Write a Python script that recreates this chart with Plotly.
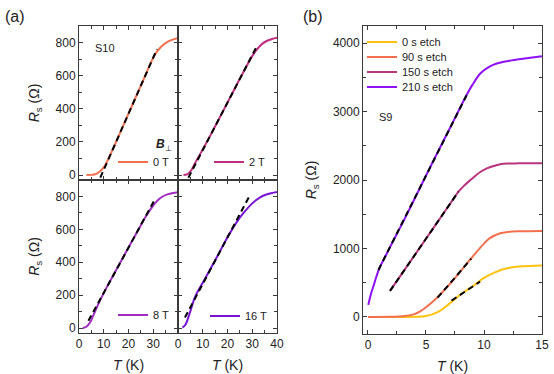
import plotly.graph_objects as go

# ---------------- data: panel (a), sample S10 ----------------
T_0T = [3, 5, 6.5, 7.5, 8.6, 10.5, 14, 18, 22, 26, 30, 31.5, 33, 35, 37, 40]
R_0T = [0, 1, 5, 12, 24, 58, 167, 303, 438, 574, 709, 745, 772, 797, 813, 828]
FIT_T_0T = [8.6, 31.5]
FIT_R_0T = [-16, 760]

T_2T = [2.2, 3.5, 4.2, 5.5, 7, 10, 14, 18, 22, 26, 30, 32, 34, 36, 38, 40]
R_2T = [0, 3, 9, 32, 75, 155, 265, 380, 495, 610, 718, 760, 792, 811, 822, 829]
FIT_T_2T = [4.2, 32]
FIT_R_2T = [-16, 782]

T_8T = [1.5, 3, 4.5, 6, 8, 12, 16, 20, 24, 27, 30, 33, 36, 40]
R_8T = [0, 8, 35, 85, 152, 270, 380, 490, 598, 678, 745, 792, 814, 826]
FIT_T_8T = [3.8, 30.3]
FIT_R_8T = [44, 772]

T_16T = [1.8, 3, 4.8, 6.9, 10, 14.3, 20.4, 24, 26.4, 30, 33, 36, 40]
R_16T = [3, 20, 94, 190, 275, 392, 562, 650, 698, 758, 793, 813, 827]
FIT_T_16T = [2.8, 29.1]
FIT_R_16T = [64, 809]

# ---------------- data: panel (b), sample S9 ----------------
T_0s = [0, 3, 4, 5, 6, 7, 8, 9, 10, 11, 12, 13, 14, 15]
R_0s = [0, 0, 2, 12, 70, 190, 330, 445, 570, 655, 710, 735, 745, 750]
FIT_T_0s = [7.2, 9.66]
FIT_R_0s = [238, 515]

T_90s = [0, 2, 3, 4, 4.5, 5, 5.9, 7, 7.6, 8.9, 10, 10.5, 11.4, 12, 13, 15]
R_90s = [0, 2, 8, 40, 80, 140, 273, 470, 589, 857, 1070, 1150, 1222, 1240, 1250, 1255]
FIT_T_90s = [6.0, 8.9]
FIT_R_90s = [280, 850]

T_150s = [1.9, 3, 4, 5, 6, 7, 7.8, 8.3, 8.9, 9.5, 10.2, 11, 11.4, 12, 13, 15]
R_150s = [380, 650, 896, 1142, 1388, 1634, 1830, 1920, 2010, 2095, 2165, 2212, 2230, 2240, 2243, 2245]
FIT_T_150s = [1.9, 7.8]
FIT_R_150s = [380, 1830]

T_210s = [0.03, 0.15, 0.3, 0.46, 0.7, 1.0, 1.5, 1.9, 3.3, 4.9, 5.9, 7.1, 8.4, 9.0, 9.7, 10.4, 11.1, 12.2, 13.5, 15]
R_210s = [175, 265, 360, 443, 575, 720, 885, 1020, 1480, 2030, 2370, 2770, 3210, 3390, 3560, 3650, 3703, 3742, 3775, 3810]
FIT_T_210s = [0.9, 8.5]
FIT_R_210s = [686, 3238]

LABELS_A = ["0 T", "2 T", "8 T", "16 T"]
LABELS_B = ["0 s etch", "90 s etch", "150 s etch", "210 s etch"]

C_ORANGE = "#F2704E"
C_MAGENTA = "#BE2F82"
C_PURPLE = "#A02CC0"
C_VIOLET = "#7A12D6"
C_YELLOW = "#FFC20E"
C_B150 = "#B8357F"
C_B210 = "#8E10F5"

W, H = 554, 374
FONT = "Liberation Sans, Arial, sans-serif"
AX = "#3a3a3a"

def px(x):
    return x / W

def py(y):
    return 1 - y / H

fig = go.Figure()

panels = [
    (T_0T, R_0T, FIT_T_0T, FIT_R_0T, C_ORANGE, LABELS_A[0], "x", "y", "legend2"),
    (T_2T, R_2T, FIT_T_2T, FIT_R_2T, C_MAGENTA, LABELS_A[1], "x2", "y2", "legend3"),
    (T_8T, R_8T, FIT_T_8T, FIT_R_8T, C_PURPLE, LABELS_A[2], "x3", "y3", "legend4"),
    (T_16T, R_16T, FIT_T_16T, FIT_R_16T, C_VIOLET, LABELS_A[3], "x4", "y4", "legend5"),
]
for T, R, FT, FR, col, lab, xa, ya, lg in panels:
    fig.add_trace(go.Scatter(x=T, y=R, mode="lines", line=dict(color=col, width=2, shape="spline"),
                             name=lab, xaxis=xa, yaxis=ya, legend=lg))
    fig.add_trace(go.Scatter(x=FT, y=FR, mode="lines", line=dict(color="black", width=2, dash="6px,4px"),
                             showlegend=False, xaxis=xa, yaxis=ya))

bset = [
    (T_0s, R_0s, FIT_T_0s, FIT_R_0s, C_YELLOW, LABELS_B[0], "legend"),
    (T_90s, R_90s, FIT_T_90s, FIT_R_90s, C_ORANGE, LABELS_B[1], "legend6"),
    (T_150s, R_150s, FIT_T_150s, FIT_R_150s, C_B150, LABELS_B[2], "legend7"),
    (T_210s, R_210s, FIT_T_210s, FIT_R_210s, C_B210, LABELS_B[3], "legend8"),
]
for T, R, FT, FR, col, lab, lg in bset:
    fig.add_trace(go.Scatter(x=T, y=R, mode="lines", line=dict(color=col, width=2, shape="spline"),
                             name=lab, xaxis="x5", yaxis="y5", legend=lg))
for T, R, FT, FR, col, lab, lg in bset:
    fig.add_trace(go.Scatter(x=FT, y=FR, mode="lines", line=dict(color="black", width=2, dash="6px,4px"),
                             showlegend=False, xaxis="x5", yaxis="y5"))

tickfont = dict(family=FONT, size=12, color="#222")
titlefont = dict(family=FONT, size=14, color="#222")

def axis_common():
    return dict(showline=True, linecolor=AX, linewidth=1, mirror="ticks", ticks="inside",
                ticklen=4, tickcolor=AX, tickwidth=1, showgrid=False, zeroline=False,
                tickfont=tickfont, automargin=False)

xl = [px(79), px(178)]
xr = [px(178), px(277)]
yt = [py(180), py(26)]
yb = [py(333), py(180)]

ya_range = [-30, 900]
xa_range = [0, 40]

layout = dict(
    width=W, height=H, margin=dict(l=0, r=0, t=0, b=0, autoexpand=False),
    paper_bgcolor="white", plot_bgcolor="white", font=dict(family=FONT, color="#222"),
)
mx = lambda d: dict(dtick=d, ticks="inside", ticklen=3, tickcolor=AX)
layout["xaxis"] = dict(axis_common(), domain=xl, range=xa_range, anchor="y", tickvals=[0, 10, 20, 30],
                       showticklabels=False, minor=mx(5))
layout["xaxis2"] = dict(axis_common(), domain=xr, range=xa_range, anchor="y2", tickvals=[0, 10, 20, 30, 40],
                        showticklabels=False, minor=mx(5))
layout["xaxis3"] = dict(axis_common(), domain=xl, range=xa_range, anchor="y3", tickvals=[0, 10, 20, 30],
                        minor=mx(5), title=dict(text="<i>T</i> (K)", font=titlefont, standoff=9))
layout["xaxis4"] = dict(axis_common(), domain=xr, range=xa_range, anchor="y4", tickvals=[0, 10, 20, 30, 40],
                        minor=mx(5), title=dict(text="<i>T</i> (K)", font=titlefont, standoff=9))
ytitle = "<i>R</i><sub>s</sub> (Ω)"
layout["yaxis"] = dict(axis_common(), domain=yt, range=ya_range, anchor="x", tickvals=[0, 200, 400, 600, 800],
                       minor=mx(100), title=dict(text=ytitle, font=titlefont, standoff=12))
layout["yaxis2"] = dict(axis_common(), domain=yt, range=ya_range, anchor="x2", tickvals=[0, 200, 400, 600, 800],
                        showticklabels=False, minor=mx(100))
layout["yaxis3"] = dict(axis_common(), domain=yb, range=ya_range, anchor="x3", tickvals=[0, 200, 400, 600, 800],
                        minor=mx(100), title=dict(text=ytitle, font=titlefont, standoff=12))
layout["yaxis4"] = dict(axis_common(), domain=yb, range=ya_range, anchor="x4", tickvals=[0, 200, 400, 600, 800],
                        showticklabels=False, minor=mx(100))
layout["xaxis5"] = dict(axis_common(), domain=[px(363), px(542)], range=[-0.43, 15], anchor="y5",
                        tickvals=[0, 5, 10, 15], minor=mx(2.5),
                        title=dict(text="<i>T</i> (K)", font=titlefont, standoff=9))
layout["yaxis5"] = dict(axis_common(), domain=[py(334), py(26)], range=[-250, 4250], anchor="x5",
                        tickvals=[0, 1000, 2000, 3000, 4000], minor=mx(500),
                        title=dict(text=ytitle, font=titlefont, standoff=12))

legfont = dict(family=FONT, size=11, color="#222")
def single_leg(x, y):
    return dict(x=px(x), y=py(y), xanchor="left", yanchor="middle", bgcolor="rgba(0,0,0,0)",
                font=legfont, itemwidth=30, borderwidth=0, tracegroupgap=0)

layout["legend"] = single_leg(362, 42)
layout["legend6"] = single_leg(362, 57)
layout["legend7"] = single_leg(362, 72)
layout["legend8"] = single_leg(362, 87)
layout["legend2"] = single_leg(113, 162)
layout["legend3"] = single_leg(209, 162)
layout["legend4"] = single_leg(113, 315)
layout["legend5"] = single_leg(205, 316)

fig.update_layout(**layout)

annos = [
    dict(text="(a)", x=px(3), y=py(17), font=dict(family=FONT, size=16, color="#222")),
    dict(text="(b)", x=px(301), y=py(17), font=dict(family=FONT, size=16, color="#222")),
    dict(text="S10", x=px(93), y=py(48), font=dict(family=FONT, size=11, color="#222")),
    dict(text="S9", x=px(377), y=py(117), font=dict(family=FONT, size=11, color="#222")),
    dict(text="<b><i>B</i></b><sub>⊥</sub>", x=px(154), y=py(145), font=dict(family=FONT, size=12, color="#222")),
]
for a in annos:
    fig.add_annotation(xref="paper", yref="paper", xanchor="left", yanchor="middle", showarrow=False, **a)

fig.write_html("out.html", config={"displayModeBar": False},
               post_script="document.body.style.margin='0';document.body.style.padding='0';")
